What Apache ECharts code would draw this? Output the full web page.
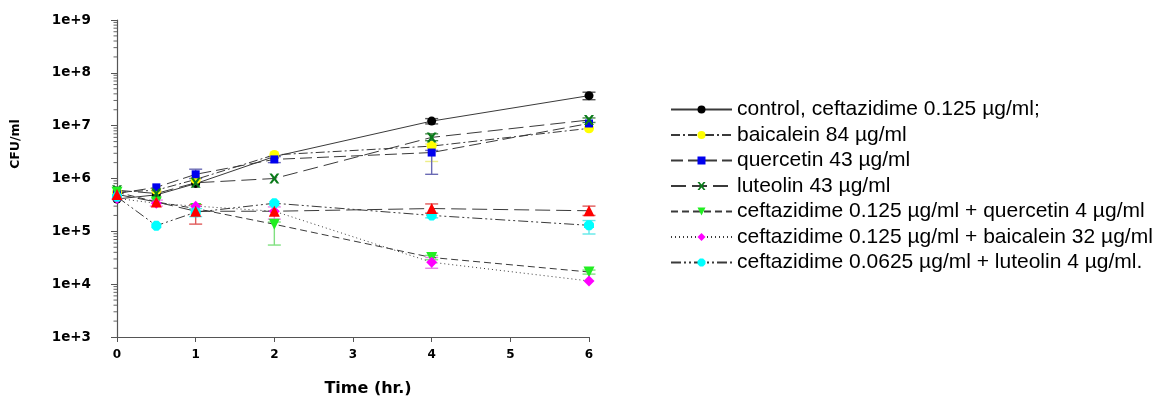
<!DOCTYPE html>
<html>
<head>
<meta charset="utf-8">
<script src="https://cdn.jsdelivr.net/npm/echarts@6/dist/echarts.min.js"></script>
<style>
html, body { margin: 0; padding: 0; background: #fff; }
#chart { width: 1162px; height: 396px; }
</style>
</head>
<body>
<div id="chart"></div>
<script>
// sampling times (hr.)
var times = [0, 0.5, 1, 2, 4, 6];

// CFU/ml
var control = [4.1e5, 4.9e5, 8.0e5, 2.6e6, 1.22e7, 3.7e7];
var baicalein = [5.5e5, 6.0e5, 9.6e5, 2.8e6, 4.1e6, 8.9e6];
var quercetin = [5.2e5, 6.8e5, 1.2e6, 2.3e6, 3.1e6, 1.1e7];
var luteolin = [6.0e5, 5.2e5, 8.3e5, 1.0e6, 6.0e6, 1.28e7];
var cefQuer = [5.5e5, 3.6e5, 2.7e5, 1.36e5, 3.2e4, 1.7e4];
var cefBaic = [4.2e5, 3.4e5, 3.0e5, 2.4e5, 2.6e4, 1.15e4];
var cefLute = [4.5e5, 1.28e5, 2.3e5, 3.4e5, 2.0e5, 1.3e5];
var cefAlone = [5.0e5, 3.6e5, 2.4e5, 2.4e5, 2.7e5, 2.45e5];

// error bars: [time, low, high]
var controlErr = [[4, 1.08e7, 1.36e7], [6, 3.1e7, 4.3e7]];
var baicaleinErr = [[4, 2.1e6, 4.5e6]];
var quercetinErr = [[1, 1.0e6, 1.5e6], [2, 2.0e6, 2.6e6], [4, 1.2e6, 3.4e6]];
var luteolinErr = [[4, 5.2e6, 7.0e6], [6, 1.15e7, 1.4e7]];
var cefQuerErr = [[2, 5.5e4, 1.5e5], [4, 2.9e4, 3.5e4], [6, 1.55e4, 1.85e4]];
var cefBaicErr = [[0.5, 3.0e5, 3.9e5], [2, 1.7e5, 2.9e5], [4, 2.0e4, 3.2e4]];
var cefLuteErr = [[1, 1.9e5, 2.7e5], [4, 1.8e5, 2.2e5], [6, 8.9e4, 1.6e5]];
var cefAloneErr = [[1, 1.37e5, 3.2e5], [4, 2.2e5, 3.3e5], [6, 2.0e5, 3.0e5]];

var yLabels = ['1e+3', '1e+4', '1e+5', '1e+6', '1e+7', '1e+8', '1e+9'];

var names = [
	'control, ceftazidime 0.125 µg/ml;',
	'baicalein 84 µg/ml',
	'quercetin 43 µg/ml',
	'luteolin 43 µg/ml',
	'ceftazidime 0.125 µg/ml + quercetin 4 µg/ml',
	'ceftazidime 0.125 µg/ml + baicalein 32 µg/ml',
	'ceftazidime 0.0625 µg/ml + luteolin 4 µg/ml.'
];

var crossPath = 'path://M0,0 L2.5,0 L5,3.2 L7.5,0 L10,0 L6.4,5 L10,10 L7.5,10 L5,6.8 L2.5,10 L0,10 L3.6,5 Z';
var octPath = 'path://M3,0 L7,0 L10,3 L10,7 L7,10 L3,10 L0,7 L0,3 Z';

var chart = echarts.init(document.getElementById('chart'));

function pairs(vals) {
	var out = [];
	for (var i = 0; i < times.length; i++) out.push([times[i], vals[i]]);
	return out;
}

function lineSeries(name, vals, dash, color, symbol, size, rotate) {
	return {
		name: name,
		type: 'line',
		data: pairs(vals),
		symbol: symbol,
		symbolSize: size,
		symbolRotate: rotate || 0,
		z: 3,
		lineStyle: { color: '#3a3a3a', width: 1, type: dash },
		itemStyle: { color: color, opacity: 1 },
		emphasis: { disabled: true }
	};
}

function errSeries(errs, color) {
	return {
		type: 'custom',
		data: errs,
		z: 2,
		silent: true,
		renderItem: function (params, api) {
			var lo = api.coord([api.value(0), api.value(1)]);
			var hi = api.coord([api.value(0), api.value(2)]);
			var w = 6.5;
			var st = { stroke: color, lineWidth: 1.4 };
			return {
				type: 'group',
				children: [
					{ type: 'line', shape: { x1: lo[0], y1: lo[1], x2: hi[0], y2: hi[1] }, style: st },
					{ type: 'line', shape: { x1: lo[0] - w, y1: lo[1], x2: lo[0] + w, y2: lo[1] }, style: st },
					{ type: 'line', shape: { x1: hi[0] - w, y1: hi[1], x2: hi[0] + w, y2: hi[1] }, style: st }
				]
			};
		}
	};
}

// minor log ticks (2..9 per decade) drawn on the left of the y axis
var minorTicks = [];
for (var e = 3; e < 9; e++) {
	for (var m = 2; m <= 9; m++) minorTicks.push([0, m * Math.pow(10, e)]);
}

var series = [
	errSeries(controlErr, '#555'),
	errSeries(baicaleinErr, '#eeee88'),
	errSeries(quercetinErr, '#6a6ab4'),
	errSeries(luteolinErr, '#4a8a4a'),
	errSeries(cefQuerErr, '#80e080'),
	errSeries(cefBaicErr, '#e880e8'),
	errSeries(cefLuteErr, '#60e8e8'),
	errSeries(cefAloneErr, '#e05a5a'),
	lineSeries(names[0], control, 'solid', '#000', 'circle', 9),
	lineSeries(names[1], baicalein, [9, 3, 2, 3], '#ffff00', 'circle', 10),
	lineSeries(names[2], quercetin, [12, 5], '#0000ee', 'rect', 8),
	lineSeries(names[3], luteolin, [15, 6], '#0a7a1a', crossPath, 10),
	lineSeries(names[4], cefQuer, [7, 4], '#22ee22', 'triangle', 11, 180),
	lineSeries(names[5], cefBaic, [1, 3], '#ff00ff', 'diamond', 11),
	lineSeries(names[6], cefLute, [10, 3, 2, 3, 2, 3], '#00ffff', octPath, 10),
	lineSeries('ceftazidime 0.125 µg/ml', cefAlone, [15, 6], '#ff0000', 'triangle', 11),
	{
		type: 'custom',
		data: minorTicks,
		silent: true,
		clip: false,
		renderItem: function (params, api) {
			var p = api.coord([0, api.value(1)]);
			return {
				type: 'line',
				shape: { x1: p[0] - 3.5, y1: p[1], x2: p[0], y2: p[1] },
				style: { stroke: '#666', lineWidth: 1 }
			};
		}
	}
];

var option = {
	animation: false,
	backgroundColor: '#fff',
	grid: { left: 117, right: 573, top: 20, bottom: 59 },
	legend: {
		data: names,
		orient: 'vertical',
		left: 665,
		top: 94,
		itemWidth: 61,
		itemHeight: 10,
		itemGap: 4.5,
		selectedMode: false,
		textStyle: { fontFamily: 'Liberation Sans', fontSize: 21, color: '#000' }
	},
	xAxis: {
		type: 'value',
		min: 0,
		max: 6,
		interval: 1,
		splitLine: { show: false },
		axisLine: { onZero: false, lineStyle: { color: '#555', width: 1.2 } },
		axisTick: { length: 5, lineStyle: { color: '#555' } },
		axisLabel: { margin: 12, color: '#000', fontFamily: 'DejaVu Sans', fontWeight: 'bold', fontSize: 12 }
	},
	yAxis: {
		type: 'log',
		logBase: 10,
		min: 1e3,
		max: 1e9,
		splitLine: { show: false },
		axisLine: { show: true, lineStyle: { color: '#555', width: 1.2 } },
		axisTick: { show: true, length: 6, lineStyle: { color: '#555' } },
		axisLabel: {
			margin: 26,
			color: '#000',
			fontFamily: 'DejaVu Sans',
			fontWeight: 'bold',
			fontSize: 13.5,
			formatter: function (v) {
				return yLabels[Math.round(Math.log(v) / Math.LN10) - 3];
			}
		}
	},
	graphic: [
		{
			type: 'text',
			x: 16, y: 144,
			rotation: Math.PI / 2,
			style: { text: 'CFU/ml', fontFamily: 'DejaVu Sans', fontWeight: 'bold', fontSize: 12.5, fill: '#000', align: 'center', verticalAlign: 'middle' }
		},
		{
			type: 'text',
			x: 368, y: 389,
			style: { text: 'Time (hr.)', fontFamily: 'DejaVu Sans', fontWeight: 'bold', fontSize: 16, fill: '#000', align: 'center', verticalAlign: 'middle' }
		}
	],
	series: series
};

chart.setOption(option);
</script>
</body>
</html>
